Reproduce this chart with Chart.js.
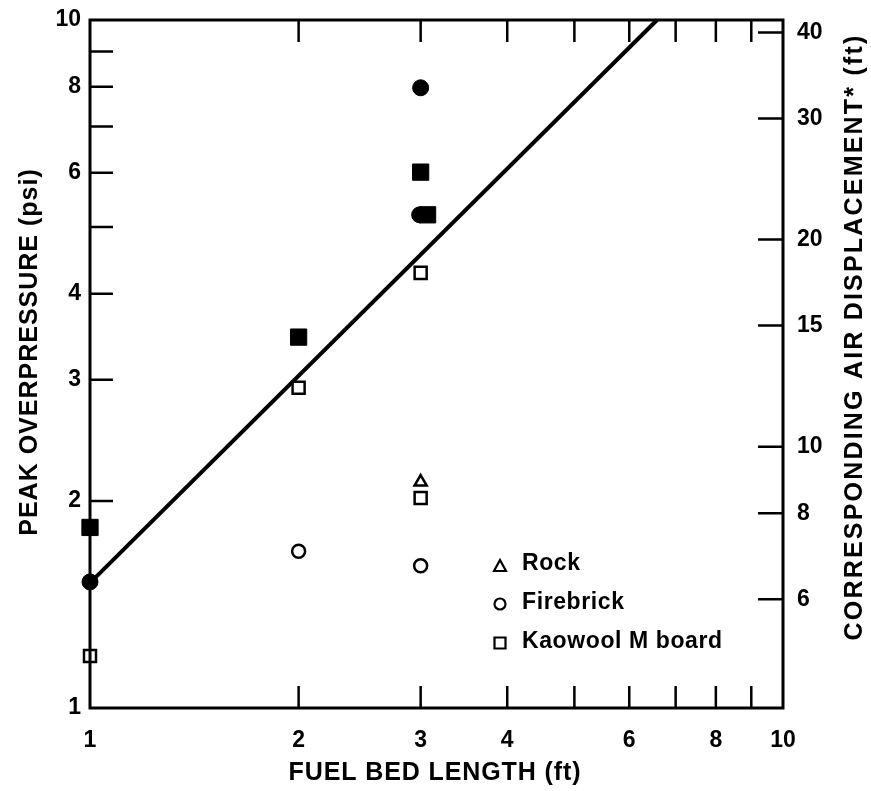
<!DOCTYPE html>
<html>
<head>
<meta charset="utf-8">
<script src="https://cdn.jsdelivr.net/npm/chart.js@4.4.1/dist/chart.umd.min.js"></script>
<style>
  html, body { margin: 0; background: #fff; }
  #wrap { width: 871px; height: 791px; }
</style>
</head>
<body>
<div id="wrap"><canvas id="chart"></canvas></div>
<script>
// tick values
const xTicks = [1, 2, 3, 4, 6, 8, 10];
const xMarks = [2, 3, 4, 5, 6, 7, 8, 9];
const yTicks = [1, 2, 3, 4, 6, 8, 10];
const yMarks = [2, 3, 4, 5, 6, 7, 8, 9];
const y2Ticks = [6, 8, 10, 15, 20, 30, 40];
const dispPerPsi = 4.17; // right axis (ft) per psi

// fitted line
const fitX = [1, 6.58];
const fitY = [1.52, 10];

// measurements (ft, psi)
const rockX = [3];
const rockY = [2.13];
const brickOpenX = [2, 3];
const brickOpenY = [1.69, 1.61];
const brickFillX = [1, 3, 2.99];
const brickFillY = [1.525, 7.97, 5.21];
const woolOpenX = [1, 2, 3, 3];
const woolOpenY = [1.19, 2.92, 4.29, 2.02];
const woolFillX = [1, 2, 3, 3.07];
const woolFillY = [1.83, 3.46, 6.01, 5.21];

const pts = (xs, ys) => xs.map((x, i) => ({ x: x, y: ys[i] }));

const FONT = "'Liberation Sans', Arial, sans-serif";

function title(ctx, text, x, y, rot, spacing) {
  ctx.save();
  ctx.translate(x, y);
  ctx.rotate(rot);
  ctx.letterSpacing = spacing + 'px';
  ctx.font = 'bold 25px ' + FONT;
  ctx.textAlign = 'center';
  ctx.textBaseline = 'middle';
  ctx.fillStyle = '#000';
  ctx.fillText(text, 0, 0);
  ctx.restore();
}

// frame, inward ticks, legend and axis titles
const framePlugin = {
  id: 'frame',
  afterDraw(chart) {
    const ctx = chart.ctx;
    const a = chart.chartArea;
    const sx = chart.scales.x, sy = chart.scales.y, sy2 = chart.scales.y2;
    ctx.save();
    ctx.strokeStyle = '#000';
    ctx.lineWidth = 3;
    ctx.strokeRect(a.left, a.top, a.right - a.left, a.bottom - a.top);
    ctx.lineWidth = 2.5;
    ctx.beginPath();
    xMarks.forEach(v => {
      const px = sx.getPixelForValue(v);
      ctx.moveTo(px, a.bottom); ctx.lineTo(px, a.bottom - 22);
      ctx.moveTo(px, a.top); ctx.lineTo(px, a.top + 22);
    });
    yMarks.forEach(v => {
      const py = sy.getPixelForValue(v);
      ctx.moveTo(a.left, py); ctx.lineTo(a.left + 23, py);
    });
    y2Ticks.forEach(v => {
      const py = sy2.getPixelForValue(v);
      ctx.moveTo(a.right, py); ctx.lineTo(a.right - 25, py);
    });
    ctx.stroke();

    // legend
    const lx = a.left + 410, tx = a.left + 432;
    const rows = [a.top + 546, a.top + 584, a.top + 623];
    ctx.lineWidth = 2.2;
    ctx.fillStyle = '#fff';
    ctx.beginPath();
    ctx.moveTo(lx, rows[0] - 6); ctx.lineTo(lx + 6, rows[0] + 5); ctx.lineTo(lx - 6, rows[0] + 5); ctx.closePath();
    ctx.fill(); ctx.stroke();
    ctx.beginPath();
    ctx.arc(lx, rows[1], 5.5, 0, Math.PI * 2);
    ctx.fill(); ctx.stroke();
    ctx.beginPath();
    ctx.rect(lx - 5.5, rows[2] - 5.5, 11, 11);
    ctx.fill(); ctx.stroke();
    ctx.fillStyle = '#000';
    ctx.letterSpacing = '0.6px';
    ctx.font = 'bold 23px ' + FONT;
    ctx.textBaseline = 'middle';
    ctx.textAlign = 'left';
    ctx.fillText('Rock', tx, rows[0] - 2);
    ctx.fillText('Firebrick', tx, rows[1] - 1);
    ctx.fillText('Kaowool M board', tx, rows[2] - 1);
    ctx.restore();

    title(ctx, 'PEAK OVERPRESSURE (psi)', 30, 352, -Math.PI / 2, 1);
    title(ctx, 'FUEL BED LENGTH (ft)', 435, 773, 0, 0.9);
    title(ctx, 'CORRESPONDING AIR DISPLACEMENT* (ft)', 855, 337, -Math.PI / 2, 2.2);
  }
};

const tickFont = { family: FONT, size: 23, weight: 'bold' };
const noPad = s => { s.paddingTop = 0; s.paddingBottom = 0; s.paddingLeft = 0; s.paddingRight = 0; };

new Chart(document.getElementById('chart'), {
  type: 'scatter',
  data: {
    datasets: [
      { label: 'Rock', data: pts(rockX, rockY), pointStyle: 'triangle', pointRadius: 7,
        backgroundColor: '#fff', borderColor: '#000', borderWidth: 2.5, clip: false },
      { label: 'Firebrick', data: pts(brickOpenX, brickOpenY), pointStyle: 'circle', pointRadius: 6.5,
        backgroundColor: '#fff', borderColor: '#000', borderWidth: 2.5, clip: false },
      { label: 'Kaowool M board', data: pts(woolOpenX, woolOpenY), pointStyle: 'rect', pointRadius: 8.5,
        backgroundColor: '#fff', borderColor: '#000', borderWidth: 2.5, clip: false },
      { label: 'Firebrick (filled)', data: pts(brickFillX, brickFillY), pointStyle: 'circle', pointRadius: 8,
        backgroundColor: '#000', borderColor: '#000', borderWidth: 1, clip: false },
      { label: 'Kaowool (filled)', data: pts(woolFillX, woolFillY), pointStyle: 'rect', pointRadius: 11.5,
        backgroundColor: '#000', borderColor: '#000', borderWidth: 1, clip: false },
      { label: 'Fit', data: pts(fitX, fitY), showLine: true, pointRadius: 0,
        borderColor: '#000', borderWidth: 4, clip: false }
    ]
  },
  options: {
    responsive: true,
    maintainAspectRatio: false,
    animation: false,
    layout: { padding: { top: 20, left: 0, right: 0, bottom: 0 } },
    plugins: { legend: { display: false }, tooltip: { enabled: false } },
    scales: {
      x: {
        type: 'logarithmic', min: 1, max: 10, bounds: 'data',
        afterBuildTicks: s => { s.ticks = xTicks.map(v => ({ value: v })); },
        afterFit: s => { s.height = 83; noPad(s); },
        grid: { display: false, drawTicks: false },
        border: { display: false },
        ticks: { color: '#000', font: tickFont, padding: 19, autoSkip: false, maxRotation: 0,
                 callback: v => String(v) }
      },
      y: {
        type: 'logarithmic', position: 'left', min: 1, max: 10, bounds: 'data',
        afterBuildTicks: s => { s.ticks = yTicks.map(v => ({ value: v })); },
        afterFit: s => { s.width = 90; noPad(s); },
        grid: { display: false, drawTicks: false },
        border: { display: false },
        ticks: { color: '#000', font: tickFont, padding: 9, autoSkip: false,
                 callback: v => String(v) }
      },
      y2: {
        type: 'logarithmic', position: 'right', min: dispPerPsi, max: dispPerPsi * 10, bounds: 'data',
        afterBuildTicks: s => { s.ticks = y2Ticks.map(v => ({ value: v })); },
        afterFit: s => { s.width = 88; noPad(s); },
        grid: { display: false, drawTicks: false },
        border: { display: false },
        ticks: { color: '#000', font: tickFont, padding: 14, autoSkip: false,
                 callback: v => String(v) }
      }
    }
  },
  plugins: [framePlugin]
});
</script>
</body>
</html>
